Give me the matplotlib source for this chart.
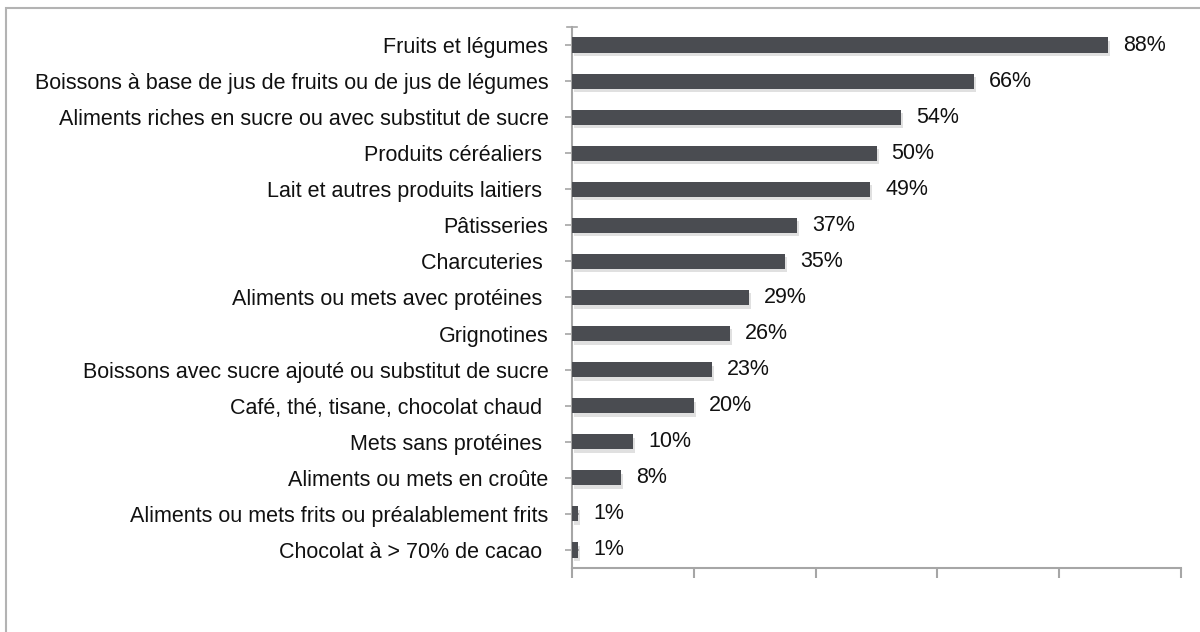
import matplotlib
matplotlib.use("Agg")
import matplotlib.pyplot as plt
import matplotlib.patheffects as pe
from matplotlib.patches import Rectangle

categories = [
    "Fruits et légumes",
    "Boissons à base de jus de fruits ou de jus de légumes",
    "Aliments riches en sucre ou avec substitut de sucre",
    "Produits céréaliers ",
    "Lait et autres produits laitiers ",
    "Pâtisseries",
    "Charcuteries ",
    "Aliments ou mets avec protéines ",
    "Grignotines",
    "Boissons avec sucre ajouté ou substitut de sucre",
    "Café, thé, tisane, chocolat chaud ",
    "Mets sans protéines ",
    "Aliments ou mets en croûte",
    "Aliments ou mets frits ou préalablement frits",
    "Chocolat à > 70% de cacao ",
]
values = [88, 66, 54, 50, 49, 37, 35, 29, 26, 23, 20, 10, 8, 1, 1]
value_labels = ["88%", "66%", "54%", "50%", "49%", "37%", "35%", "29%", "26%",
                "23%", "20%", "10%", "8%", "1%", "1%"]

plt.rcParams['font.family'] = ['Liberation Sans', 'DejaVu Sans']

fig = plt.figure(figsize=(12, 6.32), dpi=100)
W, H = 1200, 632

# outer chart frame
fig.patches.append(Rectangle((6 / W, -0.1), 1.2, 1 - 8 / H + 0.1, transform=fig.transFigure,
                             fill=False, edgecolor="#b3b3b3", linewidth=1.5))

ax = fig.add_axes([572 / W, 1 - 568 / H, (1181 - 572) / W, (568 - 27) / H])

n = len(categories)
ypos = list(range(n))
bars = ax.barh(ypos, values, height=0.42, color="#4a4c51", zorder=3)
for b in bars:
    b.set_path_effects([pe.SimplePatchShadow(offset=(1.5, -2.5), shadow_rgbFace="#000000", alpha=0.12),
                        pe.Normal()])

for y, v, lab in zip(ypos, values, value_labels):
    ax.annotate(lab, (v, y), xytext=(15, 0), textcoords="offset pixels",
                va="center", ha="left", fontsize=15.5, color="#111111")

ax.set_xlim(0, 100)
ax.set_ylim(n - 0.5, -0.5)
ax.set_xticks([0, 20, 40, 60, 80, 100])
ax.set_xticklabels([])
ax.set_yticks(ypos)
ax.set_yticklabels(categories, fontsize=15.5, color="#111111")

for s in ["top", "right"]:
    ax.spines[s].set_visible(False)
for s in ["left", "bottom"]:
    ax.spines[s].set_color("#a6a6a6")
    ax.spines[s].set_linewidth(1.5)

ax.tick_params(axis="x", direction="out", length=7, width=1.5, color="#a6a6a6")
ax.tick_params(axis="y", direction="inout", length=10, width=1.2, color="#a6a6a6", pad=12)

# small cap tick at top of the category axis
ax.plot([-0.8, 0.8], [-0.5, -0.5], color="#a6a6a6", lw=1.2, clip_on=False, zorder=4)

fig.savefig("out.png", dpi=100)
